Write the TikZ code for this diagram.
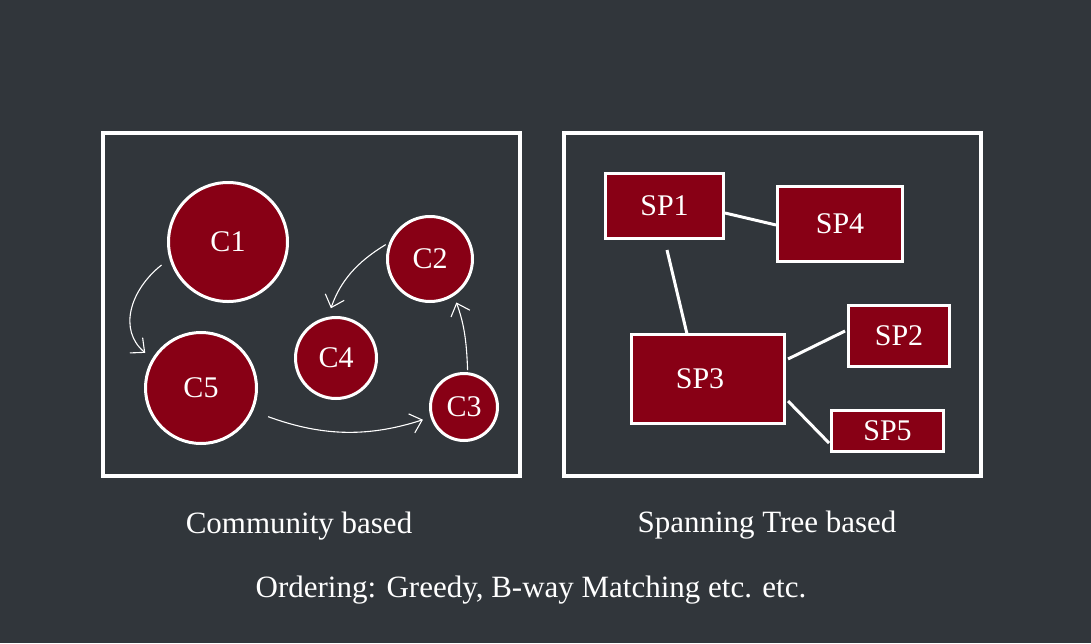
\documentclass[tikz,border=0pt]{standalone}
\usepackage{fontspec}
\setmainfont{Liberation Serif}
\usetikzlibrary{arrows.meta,calc}
\definecolor{bg}{RGB}{49,54,59}
\definecolor{dred}{RGB}{136,0,21}
\tikzset{
  framebox/.style={draw=white,line width=4pt,inner sep=0pt},
  comm/.style={circle,draw=white,fill=dred,line width=3pt,inner sep=0pt,text=white,font=\fontsize{30}{33}\selectfont},
  spbox/.style={rectangle,draw=white,fill=dred,line width=3pt,inner sep=0pt,text=white,font=\fontsize{30}{33}\selectfont},
  flow/.style={draw=white,line width=1.1pt,-{Straight Barb[length=11pt,width=20pt,line width=1.1pt]}},
  link/.style={draw=white,line width=3pt},
  captext/.style={text=white,font=\fontsize{31}{35}\selectfont}
}
\begin{document}
\begin{tikzpicture}[x=1pt,y=-1pt]
\fill[bg] (0,0) rectangle (1091,643);
\useasboundingbox (0,0) rectangle (1091,643);
% frames
\node[framebox,minimum width=417pt,minimum height=343pt] (frameL) at (311.5,304.5) {};
\node[framebox,minimum width=417pt,minimum height=343pt] (frameR) at (772.5,304.5) {};
% circles
\node[comm,minimum size=119pt] (C1) at (228,242) {C1};
\node[comm,minimum size=85pt] (C2) at (430,259) {C2};
\node[comm,minimum size=81pt] (C4) at (336,358) {C4};
\node[comm,minimum size=111pt] (C5) at (201,388) {C5};
\node[comm,minimum size=67pt] (C3) at (464,407) {C3};
% community arrows
\draw[flow,shorten <=10pt,shorten >=9pt] (C1.196) .. controls (130,290) and (118,330) .. (C5.149);
\draw[flow,shorten <=4pt,shorten >=9pt] (C2.158) to[out=211,in=71] (C4.101);
\draw[flow,shorten <=2pt,shorten >=7pt] (C3.84) to[out=92,in=-70] (C2.303);
\draw[flow,shorten <=16pt,shorten >=8pt] (C5.336) to[out=-20,in=198] (C3.197);
% spanning tree boxes
\node[spbox,minimum width=118pt,minimum height=65pt] (SP1) at (664.5,206) {SP1};
\node[spbox,minimum width=125pt,minimum height=75pt] (SP4) at (840,224) {SP4};
\node[spbox,minimum width=101pt,minimum height=61pt] (SP2) at (899,336) {SP2};
\node[spbox,minimum width=153pt,minimum height=89pt] (SP3) at (708,379) {\hspace*{-16pt}SP3};
\node[spbox,minimum width=112pt,minimum height=41pt] (SP5) at (887.5,431) {SP5};
% links
\draw[link] ([yshift=-7pt]SP1.east) -- ([yshift=-1pt]SP4.west);
\draw[link] ([xshift=2.5pt,yshift=-10pt]SP1.south) -- ([xshift=-21pt,yshift=-1pt]SP3.north);
\draw[link] ([xshift=2pt,yshift=20pt]SP3.east) -- ([xshift=-2pt,yshift=5pt]SP2.west);
\draw[link] ([xshift=2pt,yshift=-22pt]SP3.east) -- ([xshift=-1pt,yshift=-12pt]SP5.west);
% captions
\node[captext] (capL) at (299,526) {Community based};
\node[captext] (capR) at (767,525) {Spanning Tree based};
\node[captext] (capB) at (531,590) {Ordering: Greedy, B-way Matching etc. etc.};
\end{tikzpicture}
\end{document}
